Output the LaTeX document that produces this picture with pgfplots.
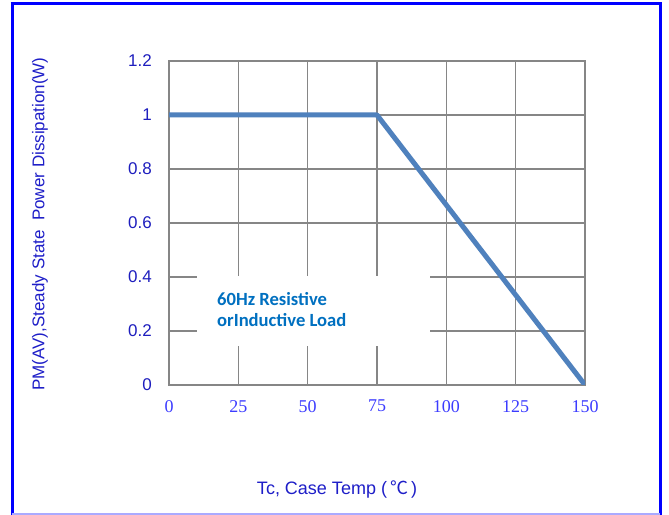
\documentclass[border=0pt]{standalone}
\usepackage{fontspec}
\setmainfont{Liberation Sans}
\newfontfamily\serif{Liberation Serif}
\newfontfamily\calib{Carlito}
\newfontfamily\cjk{Noto Sans CJK SC}
\usepackage{pgfplots}
\pgfplotsset{compat=1.18}
\definecolor{lineblue}{RGB}{79,129,189}
\definecolor{gridgray}{RGB}{134,134,134}
\definecolor{ytickblue}{RGB}{30,30,190}
\definecolor{xtickblue}{RGB}{60,60,255}
\definecolor{labelblue}{RGB}{30,30,200}
\definecolor{boxtext}{RGB}{0,112,192}
\definecolor{framelight}{RGB}{170,170,255}
\begin{document}
\begin{tikzpicture}
\useasboundingbox (0,0) rectangle (669bp,515bp);
\fill[white] (0,0) rectangle (669bp,515bp);
\begin{axis}[
  at={(169bp,130bp)}, anchor=south west,
  scale only axis, width=416bp, height=324bp,
  xmin=0, xmax=150, ymin=0, ymax=1.2,
  xtick={0,25,50,75,100,125,150},
  ytick={0,0.2,0.4,0.6,0.8,1,1.2},
  yticklabels={0,0.2,0.4,0.6,0.8,1,1.2},
  grid=major,
  major grid style={gridgray, line width=1.5bp},
  axis line style={gridgray, line width=2bp},
  major tick length=0pt,
  /pgf/number format/assume math mode=true,
  xticklabel style={font=\serif\fontsize{18bp}{20bp}\selectfont, text=xtickblue, anchor=north, inner sep=0pt, yshift=-15bp},
  yticklabel style={font=\fontsize{17bp}{20bp}\selectfont, text=ytickblue, anchor=east, inner sep=0pt, xshift=-17bp},
  axis on top=false,
]
\addplot[lineblue, line width=5bp, line join=round] coordinates {(0,1) (75,1) (150,0)};
\fill[white] (axis cs:10,0.145) rectangle (axis cs:94,0.405);
\node[anchor=base west, inner sep=0pt, text=boxtext, font=\calib\bfseries\fontsize{18.6bp}{20bp}\selectfont] at (axis cs:17.3,0.296) {60Hz Resistive};
\node[anchor=base west, inner sep=0pt, text=boxtext, font=\calib\bfseries\fontsize{18.6bp}{20bp}\selectfont] at (axis cs:17.3,0.215) {orInductive Load};
\end{axis}
\node[text=labelblue, font=\fontsize{18bp}{20bp}\selectfont, inner sep=0pt] at (337bp,25bp) {Tc, Case Temp (\,{\cjk ℃}\,)};
\node[text=labelblue, font=\fontsize{17bp}{20bp}\selectfont, inner sep=0pt, rotate=90] at (40bp,291bp) {PM(AV),Steady State\ \ Power Dissipation(W)};
\draw[blue, line width=3bp] (12bp,0) -- (12bp,511bp);
\draw[blue, line width=3bp] (10.5bp,511bp) -- (661.5bp,511bp);
\draw[blue, line width=3bp] (660bp,511bp) -- (660bp,0);
\draw[framelight, line width=1.2bp] (12bp,1bp) -- (660bp,1bp);
\end{tikzpicture}
\end{document}
